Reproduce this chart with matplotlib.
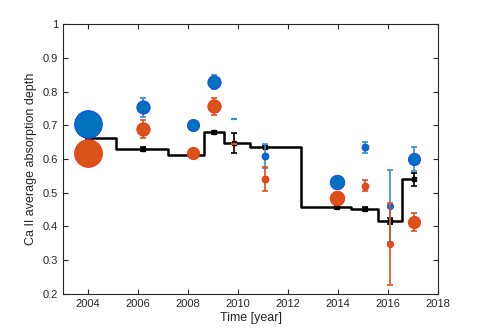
import matplotlib.pyplot as plt
import numpy as np

plt.rcParams["font.family"] = ["Liberation Sans", "DejaVu Sans"]

# Observation epochs
t_obs = [2004.0, 2006.2, 2008.2, 2009.05, 2009.85, 2011.1, 2013.95, 2015.1, 2016.1, 2017.05]

# Black reference (stepped) series
ref_val = [0.662, 0.631, 0.612, 0.679, 0.648, 0.636, 0.457, 0.453, 0.416, 0.540]
ref_err = [0.003, 0.006, 0.003, 0.004, 0.030, 0.004, 0.004, 0.006, 0.008, 0.020]

# Blue series
blue_val = [0.703, 0.753, 0.701, 0.828, 0.720, 0.610, 0.531, 0.635, 0.461, 0.601]
blue_err = [0.000, 0.029, 0.000, 0.020, 0.000, 0.036, 0.000, 0.016, 0.106, 0.035]

# Orange series
orange_val = [0.617, 0.688, 0.617, 0.757, 0.646, 0.540, 0.485, 0.521, 0.348, 0.414]
orange_err = [0.000, 0.027, 0.000, 0.025, 0.000, 0.036, 0.000, 0.016, 0.122, 0.026]

# Relative weight of each epoch (bubble size); 0 -> drawn as a dash
weight = [20, 9.6, 8.8, 9.6, 0, 5.0, 10.5, 5.0, 4.5, 8.8]

BLUE = "#0072BD"
BLUE_EDGE = "#1a3cff"
BLUE_ERR = "#2f8fd8"
ORANGE = "#D95319"
ORANGE_EDGE = "#ff2a10"


def draw_series(vals, errs, face, edge, ecol, z):
    for t, v, e, w in zip(t_obs, vals, errs, weight):
        if e > 0:
            ax.errorbar(t, v, yerr=e, fmt="none", ecolor=ecol, elinewidth=1.2,
                        capsize=2.5, capthick=1.2, zorder=z)
        if w > 0:
            ax.plot(t, v, "o", markersize=w, markerfacecolor=face,
                    markeredgecolor=edge, markeredgewidth=0.6, zorder=z + 1)
        else:
            ax.plot(t, v, "_", markersize=4, markeredgewidth=1.6,
                    color=ecol, zorder=z + 1)


fig = plt.figure(figsize=(4.85, 3.31), dpi=100)
ax = fig.add_axes([0.13, 0.112, 0.773, 0.815])

ax.step(t_obs, ref_val, where="mid", color="black", linewidth=1.8, zorder=2)
ax.errorbar(t_obs, ref_val, yerr=ref_err, fmt="s", color="black",
            markersize=3, capsize=2.5, elinewidth=1.2, capthick=1.2, zorder=3)

draw_series(blue_val, blue_err, BLUE, BLUE_EDGE, BLUE_ERR, 4)
draw_series(orange_val, orange_err, ORANGE, ORANGE_EDGE, ORANGE, 6)

ax.set_xlim(2003, 2018)
ax.set_ylim(0.2, 1.0)
ax.set_xticks(np.arange(2004, 2019, 2))
ax.set_yticks(np.arange(0.2, 1.01, 0.1))
ax.set_yticklabels(["0.2", "0.3", "0.4", "0.5", "0.6", "0.7", "0.8", "0.9", "1"])
ax.tick_params(direction="in", top=True, right=True, length=3.5,
               width=0.8, labelsize=8, colors="#262626")
for s in ax.spines.values():
    s.set_linewidth(0.8)
    s.set_color("#262626")

ax.set_xlabel("Time [year]", fontsize=9, color="#262626", labelpad=2)
ax.set_ylabel("Ca II average absorption depth", fontsize=9, color="#262626", labelpad=4)

fig.savefig("out.png", dpi=100)
